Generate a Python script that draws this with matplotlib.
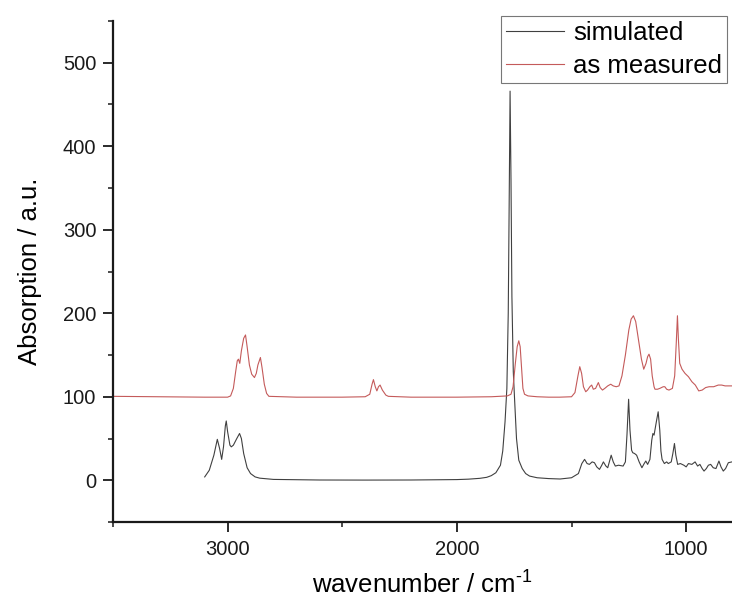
import matplotlib
matplotlib.use("Agg")
import matplotlib.pyplot as plt
from matplotlib.ticker import MultipleLocator

plt.rcParams['font.family'] = ['Liberation Sans', 'DejaVu Sans']
plt.rcParams['mathtext.fontset'] = 'custom'
plt.rcParams['mathtext.rm'] = 'Liberation Sans'
plt.rcParams['mathtext.it'] = 'Liberation Sans'
plt.rcParams['mathtext.bf'] = 'Liberation Sans'

# simulated spectrum (wavenumber, absorption)
sim_wn = [3100, 3080, 3060, 3045, 3035, 3026, 3018, 3010, 3006, 3000, 2990, 2984, 2975,
          2960, 2948, 2940, 2930, 2915, 2900, 2880, 2860, 2800, 2600, 2400, 2200, 2000,
          1950, 1900, 1870, 1850, 1830, 1810, 1800, 1790, 1782, 1776, 1772, 1768, 1764,
          1760, 1754, 1748, 1740, 1730, 1715, 1700, 1683, 1650, 1600, 1550, 1500, 1470,
          1455, 1443, 1432, 1422, 1410, 1400, 1390, 1378, 1368, 1361, 1350, 1342, 1335,
          1327, 1318, 1309, 1295, 1275, 1265, 1258, 1251, 1245, 1238, 1233, 1225, 1216,
          1205, 1193, 1183, 1176, 1168, 1158, 1150, 1145, 1140, 1130, 1122, 1115, 1110,
          1105, 1095, 1085, 1078, 1065, 1058, 1051, 1045, 1037, 1025, 1010, 1000, 990,
          975, 961, 950, 940, 930, 922, 912, 903, 893, 882, 870, 857, 848, 838, 828, 816, 800]
sim_ab = [4, 12, 30, 49, 38, 25, 40, 65, 71, 58, 42, 40, 42,
          50, 56, 50, 32, 15, 8, 4, 2.5, 1, 0.3, 0.2, 0.3, 0.8,
          1.3, 2.3, 3.5, 5.5, 9, 18, 35, 70, 110, 200, 330, 466, 360,
          220, 130, 95, 50, 24, 14, 8, 5, 3, 2, 1.5, 3, 8,
          20, 25, 20, 19, 22, 21, 16, 13, 18, 22, 17, 15, 22,
          30, 22, 17, 18, 17, 22, 55, 97, 60, 36, 33, 32, 30,
          22, 15, 20, 23, 19, 25, 48, 56, 54, 70, 82, 60, 35,
          25, 20, 22, 20, 22, 32, 44, 30, 19, 20, 18, 16, 20,
          19, 22, 17, 19, 14, 11, 14, 18, 19, 15, 14, 23, 16, 11, 14, 21, 22]

# measured spectrum (offset by 100)
meas_wn = [3500, 3300, 3100, 3000, 2987, 2975, 2965, 2958, 2953, 2947, 2940, 2930, 2922,
           2915, 2905, 2895, 2883, 2875, 2868, 2857, 2850, 2840, 2830, 2820, 2700, 2500,
           2400, 2380, 2370, 2364, 2356, 2349, 2342, 2335, 2325, 2310, 2299, 2200, 2000,
           1850, 1780, 1764, 1755, 1745, 1737, 1730, 1724, 1718, 1712, 1705, 1690, 1650,
           1600, 1552, 1500, 1485, 1472, 1464, 1456, 1448, 1438, 1430, 1420, 1412, 1405,
           1395, 1383, 1375, 1365, 1355, 1342, 1329, 1318, 1305, 1293, 1280, 1265, 1250,
           1240, 1230, 1220, 1210, 1195, 1185, 1175, 1168, 1162, 1155, 1148, 1140, 1136,
           1125, 1115, 1100, 1093, 1085, 1075, 1060, 1050, 1043, 1038, 1034, 1028, 1018,
           1005, 990, 975, 960, 945, 930, 915, 900, 880, 860, 845, 830, 815, 800]
meas_ab = [100.5, 100, 99.5, 99.5, 101, 110, 130, 143, 145, 140, 155, 170, 174,
           160, 138, 127, 123, 128, 138, 147, 135, 115, 104, 100.5, 99.5, 99.5,
           100, 103, 115, 120.5, 112, 107, 112, 114, 108, 102, 100.5, 99.5, 99.5,
           100, 101, 103, 112, 140, 160, 167, 160, 135, 110, 103, 101, 100,
           99.5, 99.5, 100, 105, 125, 136, 128, 112, 106, 108, 112, 114, 109,
           110, 117, 111, 108, 110, 113, 115, 113, 112, 113, 125, 150, 180,
           193, 197, 190, 172, 145, 133, 140, 148, 151, 145, 125, 112, 109,
           109, 110, 112, 112, 109, 108, 110, 125, 165, 197, 170, 140, 133,
           128, 124, 118, 114, 107, 108, 111, 112, 112, 114, 114, 113, 113, 113]

fig = plt.figure(figsize=(7.32, 6.05), dpi=100)
ax = fig.add_axes([113/732, (605-522)/605, 1 - 113/732, (522-21)/605])

ax.plot(sim_wn, sim_ab, color='#404040', lw=0.8, label='simulated')
ax.plot(meas_wn, meas_ab, color='#c45a5a', lw=0.8, label='as measured')

ax.set_xlim(3500, 800)
ax.set_ylim(-50, 550)
ax.xaxis.set_major_locator(MultipleLocator(1000))
ax.xaxis.set_minor_locator(MultipleLocator(500))
ax.yaxis.set_major_locator(MultipleLocator(100))
ax.yaxis.set_minor_locator(MultipleLocator(50))

for s in ['top', 'right']:
    ax.spines[s].set_visible(False)
for s in ['left', 'bottom']:
    ax.spines[s].set_linewidth(1.6)
    ax.spines[s].set_color('#1a1a1a')

ax.tick_params(which='major', direction='out', length=7, width=1.3, labelsize=14.5, pad=6, colors='#1a1a1a')
ax.tick_params(which='minor', direction='out', length=3.8, width=1.1, colors='#1a1a1a')
ax.tick_params(axis='y', which='major', pad=5)

ax.set_xlabel(r'wavenumber / cm$^{\text{-1}}$', fontsize=18.5, labelpad=9)
ax.set_ylabel('Absorption / a.u.', fontsize=18.5, labelpad=15)

leg = ax.legend(loc='upper right', bbox_to_anchor=(727/732, 1 - 16/605),
                bbox_transform=fig.transFigure, fontsize=18.5, frameon=True,
                fancybox=False, edgecolor='#777777', framealpha=1,
                handlelength=2.25, handletextpad=0.35, labelspacing=0.35,
                borderpad=0.2, borderaxespad=0)
leg.get_frame().set_linewidth(0.8)
for l in leg.get_lines():
    l.set_linewidth(0.8)

fig.savefig('out.png', dpi=100)
